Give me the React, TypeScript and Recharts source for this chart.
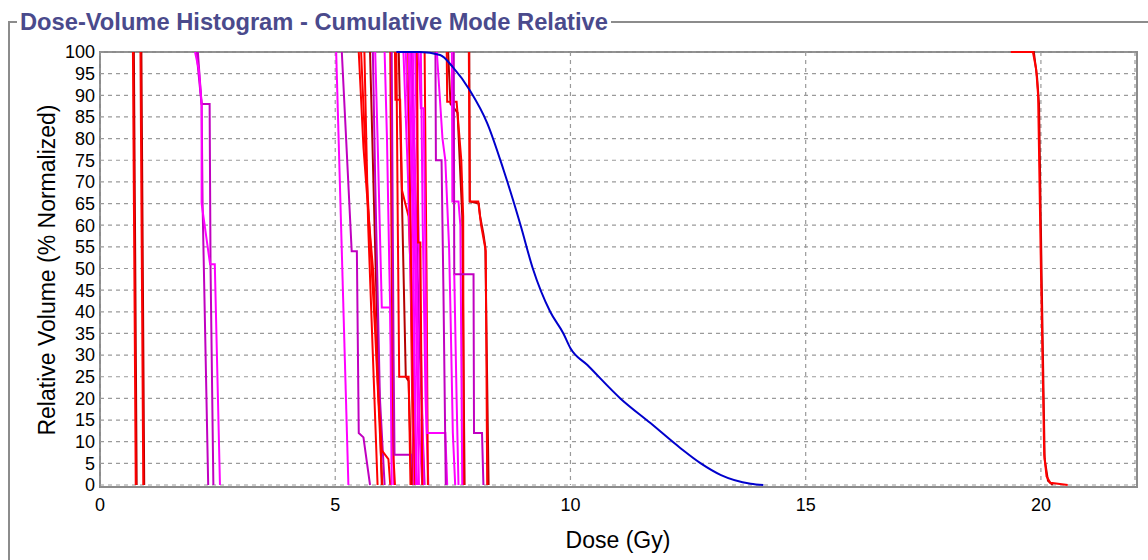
import { CartesianGrid, Line, LineChart, XAxis, YAxis } from "recharts";

type Pt = [number, number];

const doseTicks = [0, 5, 10, 15, 20];
const volumeTicks = [0, 5, 10, 15, 20, 25, 30, 35, 40, 45, 50, 55, 60, 65, 70, 75, 80, 85, 90, 95, 100];

// low dose structures
const lowA: Pt[] = [[0.7, 100], [0.73, 50], [0.76, 0]];
const lowB: Pt[] = [[0.72, 100], [0.75, 50], [0.78, 0]];
const lowC: Pt[] = [[0.86, 100], [0.89, 50], [0.92, 0]];
const lowD: Pt[] = [[0.88, 100], [0.91, 50], [0.94, 0]];

const midA: Pt[] = [[2.02, 100], [2.1, 96], [2.16, 88], [2.16, 65], [2.34, 51], [2.44, 51], [2.55, 0]];
const midB: Pt[] = [[2.05, 100], [2.14, 90], [2.16, 88], [2.33, 88], [2.35, 50], [2.41, 0]];
const midC: Pt[] = [[2.08, 100], [2.16, 88], [2.18, 65], [2.3, 0]];

// cluster 5 - 8.3 Gy
const c01: Pt[] = [[5.02, 100], [5.15, 50], [5.28, 0]];
const c02: Pt[] = [[5.14, 100], [5.35, 54], [5.46, 54], [5.5, 12], [5.6, 11], [5.74, 0]];
const c03: Pt[] = [[5.5, 100], [5.6, 78], [5.71, 62], [5.81, 49], [5.92, 20], [5.99, 8], [6.13, 6], [6.17, 0]];
const c04: Pt[] = [[5.55, 100], [5.65, 75], [5.75, 55], [5.85, 35], [5.95, 12], [6.0, 0]];
const c05: Pt[] = [[5.74, 100], [5.86, 50], [5.99, 0]];
const c06: Pt[] = [[5.85, 100], [5.9, 80], [5.99, 41], [6.17, 41], [6.2, 0]];
const c07: Pt[] = [[5.8, 100], [5.85, 70], [5.9, 45], [5.95, 20], [6.05, 0]];
const c08: Pt[] = [[6.17, 100], [6.2, 50], [6.24, 6], [6.27, 0]];
const c09: Pt[] = [[6.27, 100], [6.28, 89], [6.38, 89], [6.42, 68], [6.56, 62], [6.6, 50], [6.66, 0]];
const c10: Pt[] = [[6.35, 100], [6.4, 75], [6.45, 50], [6.5, 25], [6.56, 24], [6.62, 0]];
const c11: Pt[] = [[6.3, 100], [6.33, 60], [6.36, 25], [6.56, 25], [6.6, 0]];
const c12: Pt[] = [[6.56, 100], [6.65, 60], [6.7, 20], [6.72, 0]];
const c13: Pt[] = [[6.6, 100], [6.7, 50], [6.78, 0]];
const c14: Pt[] = [[6.65, 100], [6.72, 55], [6.8, 10], [6.85, 0]];
const c15: Pt[] = [[6.7, 100], [6.77, 60], [6.88, 0]];
const c16: Pt[] = [[6.62, 100], [6.7, 70], [6.8, 30], [6.9, 0]];
const c17: Pt[] = [[6.74, 100], [6.76, 56], [6.81, 56], [6.85, 0]];
const c18: Pt[] = [[6.9, 100], [6.94, 50], [6.97, 0]];
const c19: Pt[] = [[6.77, 100], [6.82, 87], [6.88, 87], [6.92, 50], [6.95, 12], [7.34, 12], [7.38, 0]];
const c20: Pt[] = [[7.13, 100], [7.14, 75], [7.26, 75], [7.3, 45], [7.35, 0]];
const c21: Pt[] = [[7.37, 100], [7.38, 88.5], [7.58, 88.5], [7.68, 75], [7.72, 62], [7.73, 0]];
const c22: Pt[] = [[7.4, 100], [7.45, 88], [7.6, 86], [7.7, 62], [7.75, 0]];
const c23: Pt[] = [[7.48, 100], [7.49, 65.5], [7.62, 65.5], [7.66, 60], [7.7, 0]];
const c24: Pt[] = [[7.52, 100], [7.53, 48.7], [7.94, 48.7], [7.95, 12], [8.12, 12], [8.15, 0]];
const c25: Pt[] = [[7.85, 100], [7.86, 65.5], [8.05, 65], [8.08, 62], [8.15, 58], [8.19, 55], [8.26, 0]];
const c26: Pt[] = [[7.84, 100], [7.86, 65.5], [8.04, 65.5], [8.1, 60], [8.2, 54], [8.23, 0]];
const c27: Pt[] = [[7.16, 100], [7.22, 90], [7.28, 80], [7.34, 75], [7.42, 55], [7.45, 40], [7.5, 12], [7.55, 0]];
const c28: Pt[] = [[7.53, 48.7], [7.58, 20], [7.62, 0]];
const c29: Pt[] = [[6.45, 100], [6.55, 70], [6.62, 40], [6.68, 0]];
const c30: Pt[] = [[6.5, 100], [6.58, 75], [6.66, 30], [6.74, 0]];
const c31: Pt[] = [[6.2, 100], [6.24, 30], [6.26, 7], [6.63, 7], [6.66, 0]];
const c32: Pt[] = [[5.62, 100], [5.7, 60], [5.8, 30], [5.9, 0]];
const c33: Pt[] = [[6.05, 100], [6.1, 80], [6.15, 50], [6.25, 0]];
const c34: Pt[] = [[6.55, 100], [6.6, 60], [6.65, 20], [6.7, 0]];
const c35: Pt[] = [[6.82, 100], [6.86, 60], [6.92, 20], [6.98, 0]];

// target
const ptvHigh: Pt[] = [[19.36, 100], [19.83, 100], [19.9, 96], [19.94, 90], [20.0, 50], [20.07, 7], [20.12, 2], [20.2, 0.5], [20.57, 0]];
const ptvHighB: Pt[] = [[19.4, 100], [19.85, 100], [19.92, 94], [19.96, 88], [20.02, 45], [20.08, 6], [20.15, 1], [20.25, 0]];

// body
const bodyDose = [6.3, 6.8, 7.23, 7.5, 7.87, 8.23, 8.58, 8.94, 9.2, 9.57, 9.85, 10.0, 10.36, 11.06, 11.7, 12.34, 12.77, 13.2, 13.83, 14.1];
const bodyVolume = [100, 100, 99.3, 96.5, 91, 83.6, 72.7, 60, 50, 40, 35, 31.6, 27.7, 20, 14.3, 8.5, 5, 2.3, 0.3, 0];
const body: Pt[] = bodyDose.map((d, i) => [d, bodyVolume[i]]);

const RED = "#ff0000";
const DRED = "#b40000";
const MAG = "#ff00ff";
const PUR = "#c000c0";
const BLUE = "#0000cc";

const series: { data: Pt[]; color: string; smooth?: boolean }[] = [
  { data: lowB, color: DRED },
  { data: lowA, color: RED },
  { data: lowD, color: DRED },
  { data: lowC, color: RED },
  { data: midC, color: PUR },
  { data: midB, color: PUR },
  { data: midA, color: MAG },
  { data: c01, color: MAG },
  { data: c02, color: PUR },
  { data: c05, color: DRED },
  { data: c07, color: PUR },
  { data: c03, color: RED },
  { data: c04, color: RED },
  { data: c32, color: RED },
  { data: c06, color: MAG },
  { data: c33, color: MAG },
  { data: c10, color: DRED },
  { data: c08, color: RED },
  { data: c31, color: PUR },
  { data: c09, color: RED },
  { data: c11, color: RED },
  { data: c16, color: PUR },
  { data: c29, color: MAG },
  { data: c30, color: MAG },
  { data: c34, color: RED },
  { data: c12, color: MAG },
  { data: c13, color: MAG },
  { data: c14, color: MAG },
  { data: c15, color: MAG },
  { data: c17, color: RED },
  { data: c35, color: MAG },
  { data: c18, color: RED },
  { data: c19, color: MAG },
  { data: c20, color: PUR },
  { data: c27, color: MAG },
  { data: c22, color: DRED },
  { data: c21, color: RED },
  { data: c23, color: MAG },
  { data: c24, color: PUR },
  { data: c28, color: MAG },
  { data: c25, color: DRED },
  { data: c26, color: RED },
  { data: ptvHighB, color: DRED },
  { data: ptvHigh, color: RED },
  { data: body, color: BLUE, smooth: true },
];

const font = "'Liberation Sans', Arial, sans-serif";

export default function App() {
  return (
    <div style={{ position: "absolute", left: 0, top: 0, width: 1148, height: 560, background: "#fff", fontFamily: font, overflow: "hidden" }}>
      <div
        style={{
          position: "absolute",
          left: 8,
          top: 21,
          width: 1150,
          height: 560,
          borderTop: "2px solid #8c8c8c",
          borderLeft: "2px solid #8c8c8c",
        }}
      />
      <div
        style={{
          position: "absolute",
          left: 17,
          top: 7,
          padding: "0 3px",
          background: "#fff",
          color: "#4a4a8c",
          fontSize: 23.7,
          fontWeight: 600,
          lineHeight: "30px",
          whiteSpace: "nowrap",
        }}
      >
        Dose-Volume Histogram - Cumulative Mode Relative
      </div>
      <div
        style={{
          position: "absolute",
          left: 99,
          top: 51,
          width: 1035,
          height: 433,
          border: "2px solid #8c8c8c",
          boxSizing: "content-box",
        }}
      />
      <div style={{ position: "absolute", left: 0, top: 0 }}>
        <LineChart width={1148} height={560} margin={{ top: 52, right: 13, bottom: 0, left: 0 }}>
          <CartesianGrid stroke="#9a9a9a" strokeDasharray="4 4" strokeWidth={1.2} />
          <XAxis
            type="number"
            dataKey="dose"
            domain={[0, 22]}
            ticks={doseTicks}
            height={75}
            tickSize={0}
            tickMargin={13}
            axisLine={false}
            tick={{ fill: "#000", fontSize: 18, fontFamily: font }}
            allowDataOverflow
          />
          <YAxis
            type="number"
            dataKey="volume"
            domain={[0, 100]}
            ticks={volumeTicks}
            width={100}
            tickSize={0}
            tickMargin={5}
            axisLine={false}
            tick={{ fill: "#000", fontSize: 18, fontFamily: font }}
            interval={0}
          />
          {series.map((s, i) => (
            <Line
              key={i}
              data={s.data.map(([dose, volume]) => ({ dose, volume }))}
              dataKey="volume"
              type={s.smooth ? "monotoneX" : "linear"}
              stroke={s.color}
              strokeWidth={2}
              dot={false}
              activeDot={false}
              isAnimationActive={false}
            />
          ))}
        </LineChart>
      </div>
      <div
        style={{
          position: "absolute",
          left: 47,
          top: 270,
          transform: "translate(-50%, -50%) rotate(-90deg)",
          fontSize: 23,
          color: "#000",
          whiteSpace: "nowrap",
        }}
      >
        Relative Volume (% Normalized)
      </div>
      <div
        style={{
          position: "absolute",
          left: 618,
          top: 540,
          transform: "translate(-50%, -50%)",
          fontSize: 23,
          color: "#000",
          whiteSpace: "nowrap",
        }}
      >
        Dose (Gy)
      </div>
    </div>
  );
}
